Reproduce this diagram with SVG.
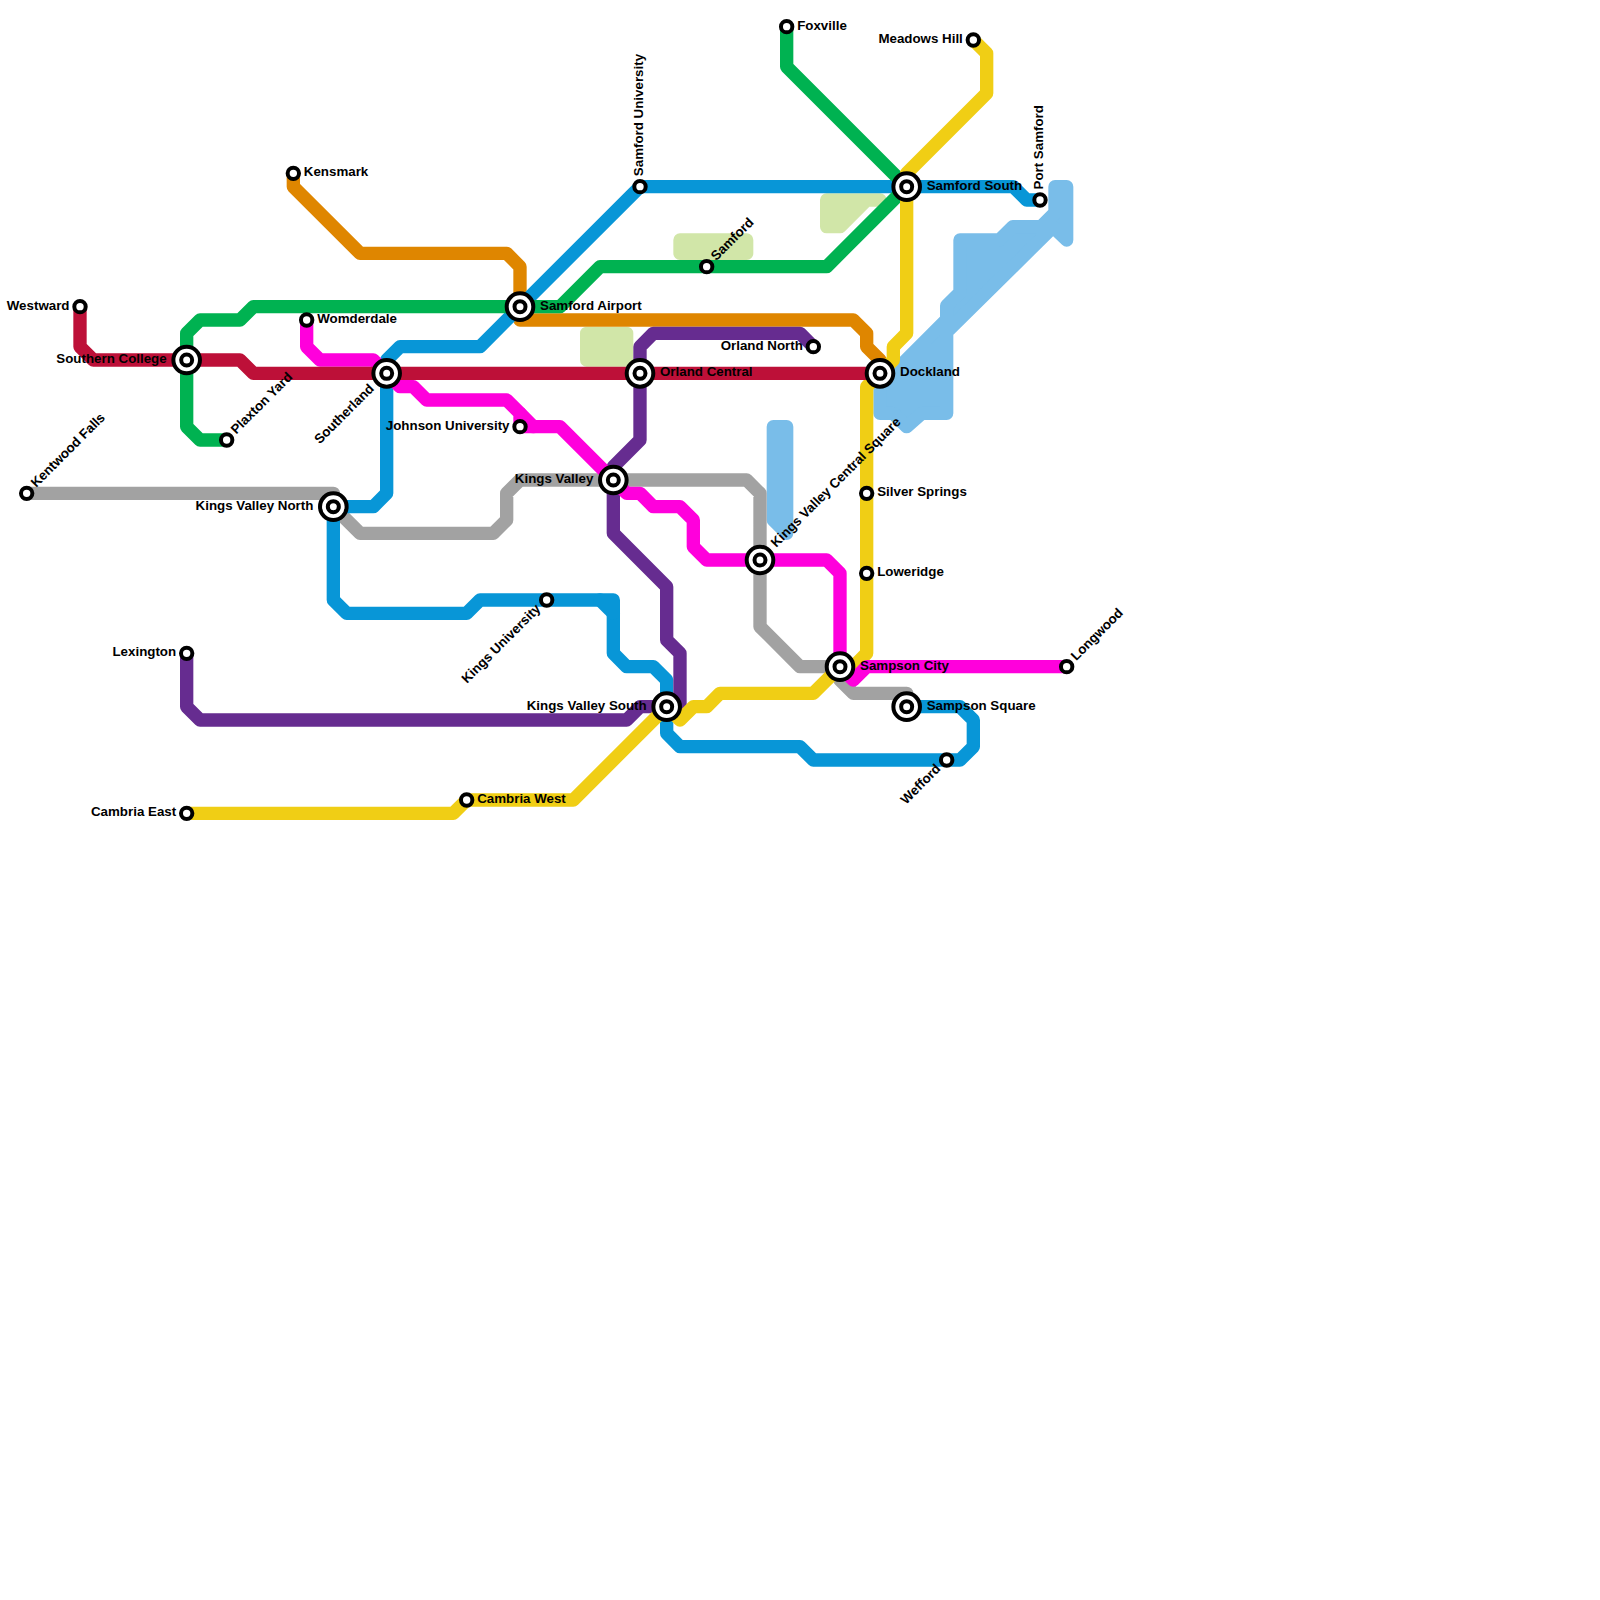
<svg xmlns="http://www.w3.org/2000/svg" width="1600" height="1600" viewBox="0 0 1600 1600">
<style>
.bg{fill:#fff}
.water{fill:#79BDE9;stroke:#79BDE9;stroke-width:13.33;stroke-linejoin:round}
.park{fill:#D1E6A8;stroke:#D1E6A8;stroke-width:13.33;stroke-linejoin:round}
.l{fill:none;stroke-width:13.33;stroke-linejoin:round;stroke-linecap:round}
.gray{stroke:#A2A2A2}.orange{stroke:#DF8600}.blue{stroke:#0896D7}.green{stroke:#00B251}.purple{stroke:#662C90}.yellow{stroke:#F0CE15}.magenta{stroke:#FF00DC}.crimson{stroke:#BD1038}
.o{fill:#fff;stroke:#000;stroke-width:4}
text{font-family:"Liberation Sans",Arial,sans-serif;font-size:13.33px;font-weight:bold;fill:#000}
.e{text-anchor:end}
</style>
<defs>
<g id="small"><circle class="o" r="5.7"/></g>
<g id="large"><circle class="o" r="13.3"/><circle class="o" r="5.5"/></g>
</defs>
<rect class="bg" width="1600" height="1600"/>
<g id="background">
<polygon class="water" points="1054.99,186.67 1066.67,186.67 1066.67,240 1053,227 946.67,332 946.67,413.33 922,413.33 906.67,426.67 893,413.33 880,413.33 880,386.1 946.67,319.4 946.67,305.8 960,292.4 960,240 999.4,240 1012.8,226.67 1041,226.67 1054.99,212.8"/>
<polygon class="water" points="773.33,426.67 786.67,426.67 786.67,533.33 773.33,520"/>
<polygon class="park" points="586.67,333.33 626.67,333.33 626.67,360 586.67,360"/>
<polygon class="park" points="680,240 746.67,240 746.67,253.33 680,253.33"/>
<polygon class="park" points="826.67,200 880,200 866.67,200 840,226.67 826.67,226.67"/>
</g>
<g id="connectors">
<path id="line-gray" class="l gray" d="M26.67 493.33H333.33V506.67L360 533.33H493.33L506.67 520V493.33L520 480H746.67L760 493.33V626.67L800 666.67H840V680L853.33 693.33H906.67V706.67"/>
<path id="line-orange" class="l orange" d="M293.33 173.33V186.67L360 253.33H506.67L520 266.67V320H853.33L866.67 333.33V346.67L880 360V373.33"/>
<path id="line-blue" class="l blue" d="M1040 200H1026.67L1013.33 186.67H640L480 346.67H400L386.67 360V493.33L373.33 506.67H333.33V600L346.67 613.33H466.67L480 600H613.33V653.33L626.67 666.67H653.33L666.67 680V733.33L680 746.67H800L813.33 760H960L973.33 746.67V720L960 706.67H906.67"/>
<path id="line-blue-spur" class="l blue" d="M600 600L613.33 613.33"/>
<path id="line-green" class="l green" d="M226.67 440H200L186.67 426.67V333.33L200 320H240L253.33 306.67H560L600 266.67H826.67L906.67 186.67L786.67 66.67V26.67"/>
<path id="line-purple-a" class="l purple" d="M186.67 653.33V706.67L200 720H626.67L640 706.67H666.67"/>
<path id="line-purple-b" class="l purple" d="M813.33 346.67L800 333.33H653.33L640 346.67V440L613.33 466.67V533.33L666.67 586.67V640L680 653.33V706.67H666.67"/>
<path id="line-yellow" class="l yellow" d="M973.33 40L986.67 53.33V93.33L906.67 173.33V333.33L893.33 346.67V360L866.67 386.67V653.33L853.33 666.67H840L813.33 693.33H720L706.67 706.67H693.33L680 720L666.67 706.67L573.33 800H466.67L453.33 813.33H186.67"/>
<path id="line-magenta" class="l magenta" d="M306.67 320V346.67L320 360H373.33L386.67 373.33L400 386.67H413.33L426.67 400H506.67L520 413.33V426.67H560L613.33 480L626.67 493.33H640L653.33 506.67H680L693.33 520V546.67L706.67 560H826.67L840 573.33V666.67L853.33 680L866.67 666.67H1066.67"/>
<path id="line-magenta-spur" class="l magenta" d="M520 413.33L533.33 426.67"/>
<path id="line-crimson" class="l crimson" d="M80 306.67V346.67L93.33 360H240L253.33 373.33H880"/>
</g>
<g id="kentwood-falls" transform="translate(26.67 493.33)"><use href="#small"/><text transform="rotate(-45)" x="10.5" y="3">Kentwood Falls</text></g>
<g id="westward" transform="translate(80 306.67)"><use href="#small"/><text class="e" x="-10.5" y="3">Westward</text></g>
<g id="southern-college" transform="translate(186.67 360)"><use href="#large"/><text class="e" x="-20" y="3">Southern College</text></g>
<g id="plaxton-yard" transform="translate(226.67 440)"><use href="#small"/><text transform="rotate(-45)" x="10.5" y="3">Plaxton Yard</text></g>
<g id="kensmark" transform="translate(293.33 173.33)"><use href="#small"/><text x="10.5" y="3">Kensmark</text></g>
<g id="womderdale" transform="translate(306.67 320)"><use href="#small"/><text x="10.5" y="3">Womderdale</text></g>
<g id="southerland" transform="translate(386.67 373.33)"><use href="#large"/><text class="e" transform="rotate(-45)" x="-20" y="3">Southerland</text></g>
<g id="kings-valley-north" transform="translate(333.33 506.67)"><use href="#large"/><text class="e" x="-20" y="3">Kings Valley North</text></g>
<g id="samford-airport" transform="translate(520 306.67)"><use href="#large"/><text x="20" y="3">Samford Airport</text></g>
<g id="johnson-university" transform="translate(520 426.67)"><use href="#small"/><text class="e" x="-10.5" y="3">Johnson University</text></g>
<g id="samford-university" transform="translate(640 186.67)"><use href="#small"/><text transform="rotate(-90)" x="10.5" y="3">Samford University</text></g>
<g id="samford" transform="translate(706.67 266.67)"><use href="#small"/><text transform="rotate(-45)" x="10.5" y="3">Samford</text></g>
<g id="foxville" transform="translate(786.67 26.67)"><use href="#small"/><text x="10.5" y="3">Foxville</text></g>
<g id="orland-central" transform="translate(640 373.33)"><use href="#large"/><text x="20" y="3">Orland Central</text></g>
<g id="orland-north" transform="translate(813.33 346.67)"><use href="#small"/><text class="e" x="-10.5" y="3">Orland North</text></g>
<g id="kings-valley" transform="translate(613.33 480)"><use href="#large"/><text class="e" x="-20" y="3">Kings Valley</text></g>
<g id="kings-university" transform="translate(546.67 600)"><use href="#small"/><text class="e" transform="rotate(-45)" x="-10.5" y="3">Kings University</text></g>
<g id="kings-valley-south" transform="translate(666.67 706.67)"><use href="#large"/><text class="e" x="-20" y="3">Kings Valley South</text></g>
<g id="kings-valley-central-square" transform="translate(760 560)"><use href="#large"/><text transform="rotate(-45)" x="20" y="3">Kings Valley Central Square</text></g>
<g id="dockland" transform="translate(880 373.33)"><use href="#large"/><text x="20" y="3">Dockland</text></g>
<g id="samford-south" transform="translate(906.67 186.67)"><use href="#large"/><text x="20" y="3">Samford South</text></g>
<g id="meadows-hill" transform="translate(973.33 40)"><use href="#small"/><text class="e" x="-10.5" y="3">Meadows Hill</text></g>
<g id="port-samford" transform="translate(1040 200)"><use href="#small"/><text transform="rotate(-90)" x="10.5" y="3">Port Samford</text></g>
<g id="silver-springs" transform="translate(866.67 493.33)"><use href="#small"/><text x="10.5" y="3">Silver Springs</text></g>
<g id="loweridge" transform="translate(866.67 573.33)"><use href="#small"/><text x="10.5" y="3">Loweridge</text></g>
<g id="sampson-city" transform="translate(840 666.67)"><use href="#large"/><text x="20" y="3">Sampson City</text></g>
<g id="sampson-square" transform="translate(906.67 706.67)"><use href="#large"/><text x="20" y="3">Sampson Square</text></g>
<g id="longwood" transform="translate(1066.67 666.67)"><use href="#small"/><text transform="rotate(-45)" x="10.5" y="3">Longwood</text></g>
<g id="wefford" transform="translate(946.67 760)"><use href="#small"/><text class="e" transform="rotate(-45)" x="-10.5" y="3">Wefford</text></g>
<g id="lexington" transform="translate(186.67 653.33)"><use href="#small"/><text class="e" x="-10.5" y="3">Lexington</text></g>
<g id="cambria-east" transform="translate(186.67 813.33)"><use href="#small"/><text class="e" x="-10.5" y="3">Cambria East</text></g>
<g id="cambria-west" transform="translate(466.67 800)"><use href="#small"/><text x="10.5" y="3">Cambria West</text></g>
</svg>
